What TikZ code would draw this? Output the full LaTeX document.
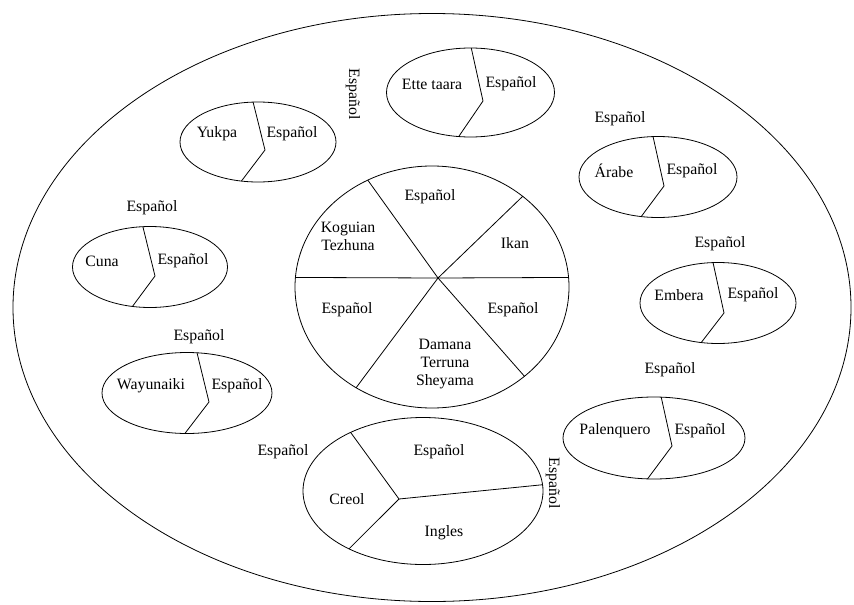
\documentclass[tikz,border=0pt]{standalone}
\usepackage{fontspec}
\setmainfont{Liberation Serif}
\newfontfamily\timesfont{Liberation Serif}
\usetikzlibrary{shapes,calc}

\begin{document}
\begin{tikzpicture}[
      x=1pt,y=-1pt,
      every node/.style={inner sep=0pt,outer sep=0pt,font=\timesfont\fontsize{15.8}{18}\selectfont},
      lang/.style={draw,ellipse,line width=0.8pt},
      txt/.style={align=center},
      side/.style={rotate=-90},
      part/.style={line width=0.8pt}
    ]
    \useasboundingbox (0,0) rectangle (854,605);

    % outer ellipse
    \node[lang,minimum width=838,minimum height=588] (all) at (432,307.5) {};

    % centre
    \node[lang,minimum width=274,minimum height=242] (mid) at (432,287) {};
    \coordinate (hub) at (438,278);
    \draw[part] (mid.176) -- (hub) -- (mid.4);
    \draw[part] (mid.121.4) -- (hub) -- (mid.233.4);
    \draw[part] (mid.45) -- (hub) -- (mid.316);
    \node[txt] at (430,197) {Español};
    \node[txt] at (348,236) {Koguian\\Tezhuna};
    \node[txt] at (515,243) {Ikan};
    \node[txt] at (347,310) {Español};
    \node[txt] at (513,310) {Español};
    \node[txt] at (445,364) {Damana\\Terruna\\Sheyama};

    % Ette taara
    \node[lang,minimum width=168,minimum height=89] (ette) at (470.5,92.5) {};
    \coordinate (ettek) at (483,101);
    \draw[part] (ette.89) -- (ettek) -- (ette.255.5);
    \node[txt] at (432,84) {Ette taara};
    \node[txt] at (511,84) {Español};

    % Yukpa
    \node[lang,minimum width=156,minimum height=80] (yukpa) at (258,142) {};
    \coordinate (yukpak) at (265,150);
    \draw[part] (yukpa.97) -- (yukpak) -- (yukpa.247);
    \node[txt] at (217,134) {Yukpa};
    \node[txt] at (292,134) {Español};
    \node[side] at (353,94) {Español};

    % Arabe
    \node[lang,minimum width=158,minimum height=81] (arabe) at (658,177) {};
    \coordinate (arabek) at (664,186);
    \draw[part] (arabe.97) -- (arabek) -- (arabe.247.5);
    \node[txt] at (614,171) {Árabe};
    \node[txt] at (692,171) {Español};
    \node[txt] at (620,119) {Español};

    % Embera
    \node[lang,minimum width=156,minimum height=81] (embera) at (718,303) {};
    \coordinate (emberak) at (724,313);
    \draw[part] (embera.97) -- (emberak) -- (embera.247.5);
    \node[txt] at (679,295) {Embera};
    \node[txt] at (753,295) {Español};
    \node[txt] at (720,244) {Español};

    % Cuna
    \node[lang,minimum width=155,minimum height=81] (cuna) at (150,267) {};
    \coordinate (cunak) at (155,276);
    \draw[part] (cuna.100) -- (cunak) -- (cuna.246.3);
    \node[txt] at (102,261) {Cuna};
    \node[txt] at (183,261) {Español};
    \node[txt] at (152,208) {Español};

    % Wayunaiki
    \node[lang,minimum width=170,minimum height=81] (wayuu) at (187,393) {};
    \coordinate (wayuuk) at (209,402);
    \draw[part] (wayuu.76) -- (wayuuk) -- (wayuu.267.2);
    \node[txt] at (151,386) {Wayunaiki};
    \node[txt] at (237,386) {Español};
    \node[txt] at (199,337) {Español};

    % Palenquero
    \node[lang,minimum width=182,minimum height=82] (palen) at (654,438) {};
    \coordinate (palenk) at (672,446);
    \draw[part] (palen.80.3) -- (palenk) -- (palen.261.7);
    \node[txt] at (615,431) {Palenquero};
    \node[txt] at (700,431) {Español};
    \node[txt] at (670,370) {Español};

    % Creol
    \node[lang,minimum width=240,minimum height=147] (creol) at (423,491) {};
    \coordinate (creolk) at (399,499);
    \draw[part] (creol.141.6) -- (creolk) -- (creol.218.4);
    \draw[part] (creolk) -- (creol.3.4);
    \node[txt] at (283,452) {Español};
    \node[txt] at (439,452) {Español};
    \node[txt] at (347,499) {Creol};
    \node[txt] at (444,533) {Ingles};
    \node[side] at (553,483) {Español};
\end{tikzpicture}
\end{document}
